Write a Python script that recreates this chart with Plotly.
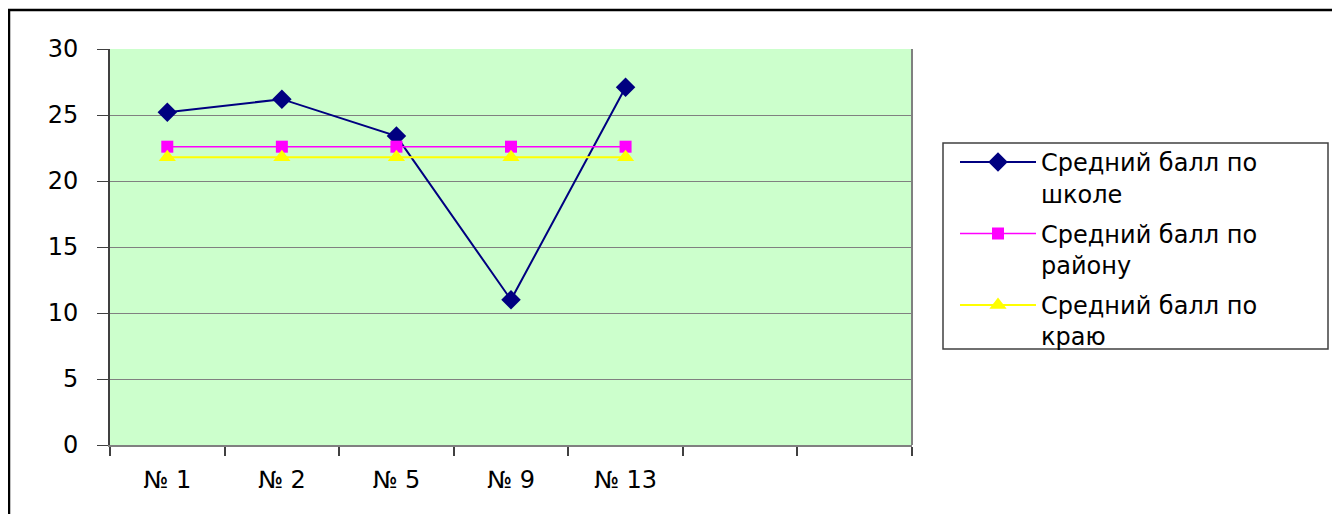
import plotly.graph_objects as go

categories = ["№ 1", "№ 2", "№ 5", "№ 9", "№ 13", " ", "  "]
school_x = ["№ 1", "№ 2", "№ 5", "№ 9", "№ 13"]
school = [25.2, 26.2, 23.4, 11.0, 27.1]
district = [22.6, 22.6, 22.6, 22.6, 22.6]
region = [21.8, 21.8, 21.8, 21.8, 21.8]
series_names = ["Средний балл по<br>школе", "Средний балл по<br>району", "Средний балл по<br>краю"]
y_ticks = [0, 5, 10, 15, 20, 25, 30]

FONT = "DejaVu Sans"
OFF = 8  # page body margin

fig = go.Figure()
fig.add_trace(go.Scatter(x=school_x, y=school, name=series_names[0], mode="lines+markers",
                         legendgroup="a",
                         line=dict(color="#000080", width=2),
                         marker=dict(symbol="diamond", size=15, color="#000080")))
fig.add_trace(go.Scatter(x=school_x, y=district, name=series_names[1], mode="lines+markers",
                         legendgroup="b",
                         line=dict(color="#FF00FF", width=1.5),
                         marker=dict(symbol="square", size=12, color="#FF00FF")))
fig.add_trace(go.Scatter(x=school_x, y=region, name=series_names[2], mode="lines+markers",
                         legendgroup="c",
                         line=dict(color="#FFFF00", width=2),
                         marker=dict(symbol="triangle-up", size=15, color="#FFFF00")))

# target pixel positions in the screenshot
L, R, T, B = 110, 912, 49, 445
W, H = 1340 - OFF, 514 - OFF
pw, ph = R - L, B - T

def px(xp):
    return (xp - L) / pw

def py(yp):
    return (B - yp) / ph

fig.update_layout(
    width=W, height=H,
    margin=dict(l=L - OFF, r=W - (R - OFF), t=T - OFF, b=H - (B - OFF), pad=0),
    paper_bgcolor="white",
    plot_bgcolor="#CCFFCC",
    font=dict(family=FONT, size=24, color="black"),
    showlegend=True,
    legend=dict(x=px(955), y=py(140), xanchor="left", yanchor="top",
                bgcolor="rgba(0,0,0,0)", borderwidth=0,
                font=dict(family=FONT, size=24, color="black"),
                valign="top", tracegroupgap=6, itemwidth=76),
    xaxis=dict(type="category", categoryorder="array", categoryarray=categories,
               range=[-0.5, 6.5], tickson="boundaries", ticks="outside", ticklen=9,
               tickcolor="#404040", tickwidth=1.5, showgrid=False, zeroline=False,
               showline=True, linecolor="#808080", linewidth=2, mirror=False,
               ticklabelstandoff=12, tickfont=dict(family=FONT, size=24)),
    yaxis=dict(range=[0, 30], tickvals=y_ticks, ticks="outside", ticklen=11,
               tickcolor="#404040", showgrid=True, gridcolor="#808080", gridwidth=1,
               zeroline=False, showline=True, linecolor="#404040", linewidth=2,
               ticklabelstandoff=14, tickfont=dict(family=FONT, size=24)),
    shapes=[
        dict(type="line", xref="paper", yref="paper", x0=1, x1=1, y0=0, y1=1,
             line=dict(color="#808080", width=2)),
        dict(type="rect", xref="paper", yref="paper", x0=px(943), x1=px(1328),
             y0=py(349), y1=py(143), line=dict(color="#404040", width=1.5)),
        dict(type="rect", xref="paper", yref="paper", x0=px(9), x1=px(1360),
             y0=py(530), y1=py(10), line=dict(color="black", width=2.5)),
    ],
)

fig.write_html("out.html")
